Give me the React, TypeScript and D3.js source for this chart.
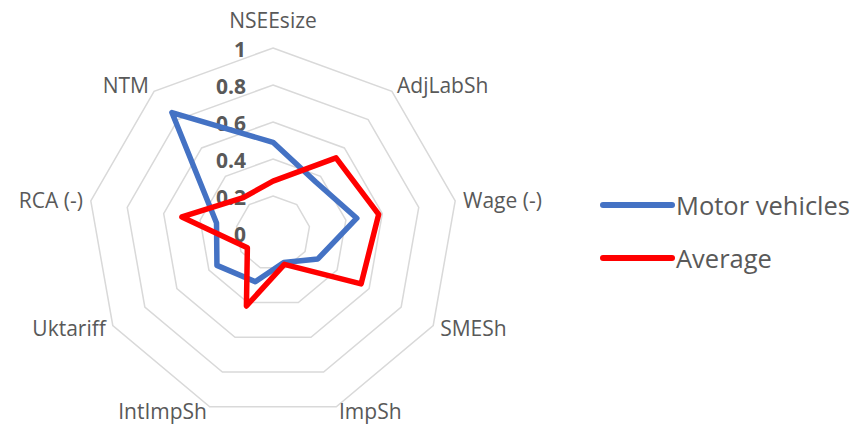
import React from "react";
import * as d3 from "d3";

// Indicator axes, clockwise from the top
const axes = ["NSEEsize", "AdjLabSh", "Wage (-)", "SMESh", "ImpSh", "IntImpSh", "Uktariff", "RCA (-)", "NTM"];
const motorVehicles = [0.49, 0.36, 0.46, 0.28, 0.17, 0.28, 0.35, 0.31, 0.85];
const average = [0.28, 0.53, 0.58, 0.55, 0.18, 0.42, 0.16, 0.5, 0.25];
const ticks = [0, 0.2, 0.4, 0.6, 0.8, 1];
const tickLabels = ["0", "0.2", "0.4", "0.6", "0.8", "1"];
const seriesNames = ["Motor vehicles", "Average"];
const seriesColors = ["#4472C4", "#FF0000"];

const W = 861;
const H = 427;
const cx = 273;
const cy = 233;
const R = 185;
const FONT = "'Open Sans', sans-serif";
const TEXT = "#595959";

export default function App() {
  const r = d3.scaleLinear().domain([0, 1]).range([0, R]);
  const angle = d3
    .scaleLinear()
    .domain([0, axes.length])
    .range([0, 2 * Math.PI]);

  const ringPath = (v: number) =>
    d3
      .lineRadial<string>()
      .angle((_, i) => angle(i))
      .radius(() => r(v))
      .curve(d3.curveLinearClosed)(axes) as string;

  const seriesPath = (vals: number[]) =>
    d3
      .lineRadial<number>()
      .angle((_, i) => angle(i))
      .radius((d) => r(d))
      .curve(d3.curveLinearClosed)(vals) as string;

  const series = [motorVehicles, average];

  return (
    <svg
      width={W}
      height={H}
      style={{ position: "absolute", left: 0, top: 0, background: "#fff" }}
      fontFamily={FONT}
    >
      <g transform={`translate(${cx},${cy})`}>
        {ticks
          .filter((t) => t > 0)
          .map((t) => (
            <path key={t} d={ringPath(t)} fill="none" stroke="#d9d9d9" strokeWidth={1.5} />
          ))}
        {ticks.map((t, i) => (
          <text
            key={"t" + t}
            x={-27}
            y={-r(t) + 1}
            textAnchor="end"
            dominantBaseline="central"
            fontSize={21}
            fontWeight="bold"
            fill={TEXT}
          >
            {tickLabels[i]}
          </text>
        ))}
        {axes.map((name, i) => {
          const a = angle(i);
          const s = Math.sin(a);
          const c = Math.cos(a);
          const vx = r(1) * s;
          const vy = -r(1) * c;
          const anchor = s > 0.1 ? "start" : s < -0.1 ? "end" : "middle";
          const dy = c > 0.99 ? -28 : c > 0 ? -c * 8 : -c * 4.5;
          return (
            <text
              key={name}
              x={vx + 8 * s}
              y={vy + dy}
              textAnchor={anchor}
              dominantBaseline="central"
              fontSize={21}
              fill={TEXT}
            >
              {name}
            </text>
          );
        })}
        {series.map((vals, i) => (
          <path
            key={seriesNames[i]}
            d={seriesPath(vals)}
            fill="none"
            stroke={seriesColors[i]}
            strokeWidth={5.5}
            strokeLinejoin="round"
          />
        ))}
      </g>
      {seriesNames.map((name, i) => {
        const y = 205 + i * 53;
        return (
          <g key={name}>
            <line x1={603} x2={672} y1={y} y2={y} stroke={seriesColors[i]} strokeWidth={6} strokeLinecap="round" />
            <text x={676} y={y} dominantBaseline="central" fontSize={25.5} fill={TEXT}>
              {name}
            </text>
          </g>
        );
      })}
    </svg>
  );
}
